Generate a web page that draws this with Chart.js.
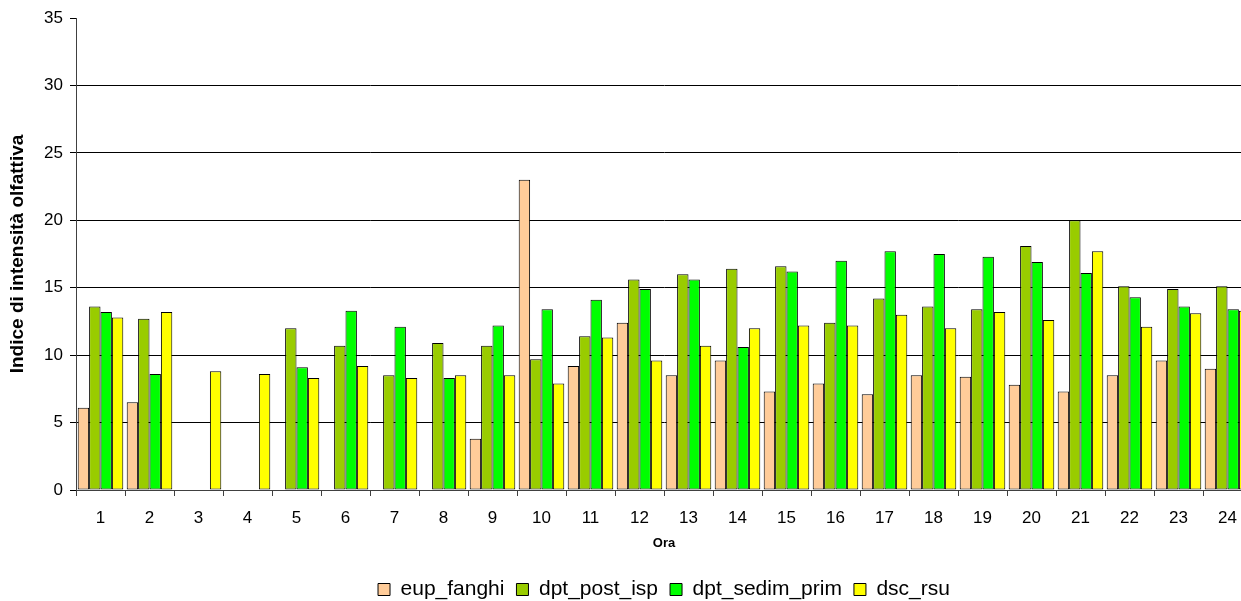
<!DOCTYPE html>
<html lang="it">
<head>
<meta charset="utf-8">
<title>Indice di intensità olfattiva per ora</title>
<script src="https://cdn.jsdelivr.net/npm/chart.js@4.4.1/dist/chart.umd.min.js"></script>
<style>
  html, body { margin: 0; padding: 0; background: #fff; overflow: hidden; }
  #wrap { width: 1344px; height: 610px; }
  canvas { display: block; }
</style>
</head>
<body>
<div id="wrap"><canvas id="chart" width="1344" height="610"></canvas></div>
<script>
// Hours of the day (category axis)
const hours = ['1','2','3','4','5','6','7','8','9','10','11','12','13','14','15','16','17','18','19','20','21','22','23','24'];

// Odour intensity index per source, one value per hour (null = no measurement)
const eupFanghi    = [6.1, 6.5, null, null, null, null, null, null, 3.8, 23.0, 9.2, 12.4, 8.5, 9.6, 7.3, 7.9, 7.1, 8.5, 8.4, 7.8, 7.3, 8.5, 9.6, 9.0];
const dptPostIsp   = [13.6, 12.7, null, null, 12.0, 10.7, 8.5, 10.9, 10.7, 9.7, 11.4, 15.6, 16.0, 16.4, 16.6, 12.4, 14.2, 13.6, 13.4, 18.1, 20.0, 15.1, 14.9, 15.1];
const dptSedimPrim = [13.2, 8.6, null, null, 9.1, 13.3, 12.1, 8.3, 12.2, 13.4, 14.1, 14.9, 15.6, 10.6, 16.2, 17.0, 17.7, 17.5, 17.3, 16.9, 16.1, 14.3, 13.6, 13.4];
const dscRsu       = [12.8, 13.2, 8.8, 8.6, 8.3, 9.2, 8.3, 8.5, 8.5, 7.9, 11.3, 9.6, 10.7, 12.0, 12.2, 12.2, 13.0, 12.0, 13.2, 12.6, 17.7, 12.1, 13.1, 13.3];

// Y axis range and step
const yMin = 0, yMax = 35, yStep = 5;

const FONT = "'Liberation Sans', Arial, sans-serif";

function series(label, data, color) {
  return {
    label: label,
    data: data,
    backgroundColor: color,
    borderColor: '#000',
    borderWidth: 1,
    borderSkipped: false,
    categoryPercentage: 0.93,
    barPercentage: 1.0
  };
}

new Chart(document.getElementById('chart'), {
  type: 'bar',
  data: {
    labels: hours,
    datasets: [
      series('eup_fanghi', eupFanghi, '#FFCC99'),
      series('dpt_post_isp', dptPostIsp, '#99CC00'),
      series('dpt_sedim_prim', dptSedimPrim, '#00FF00'),
      series('dsc_rsu', dscRsu, '#FFFF00')
    ]
  },
  options: {
    responsive: false,
    animation: false,
    devicePixelRatio: 1,
    layout: { padding: { top: 18, right: 92, bottom: 0, left: 0 } },
    plugins: {
      tooltip: { enabled: false },
      legend: {
        position: 'bottom',
        fullSize: false,
        labels: {
          color: '#000',
          font: { family: FONT, size: 21 },
          boxWidth: 12,
          boxHeight: 12,
          padding: 12
        }
      }
    },
    scales: {
      x: {
        grid: {
          offset: true,
          drawOnChartArea: false,
          drawTicks: true,
          tickLength: 6,
          color: '#404040',
          tickColor: '#404040'
        },
        border: { color: '#404040', width: 1 },
        ticks: {
          color: '#000',
          font: { family: FONT, size: 17 },
          padding: 12,
          maxRotation: 0,
          autoSkip: false
        },
        title: {
          display: true,
          text: 'Ora',
          color: '#000',
          font: { family: FONT, size: 13, weight: 'bold' },
          padding: { top: 0, bottom: 16 }
        },
        afterFit: (scale) => { scale.height = 77; }
      },
      y: {
        min: yMin,
        max: yMax,
        grid: {
          color: (ctx) => (ctx.tick && ctx.tick.value === yMax) ? 'rgba(0,0,0,0)' : '#000',
          tickColor: '#000',
          tickLength: 6,
          lineWidth: 1
        },
        border: { color: '#404040', width: 1 },
        ticks: {
          stepSize: yStep,
          color: '#000',
          font: { family: FONT, size: 17 },
          padding: 7
        },
        title: {
          display: true,
          text: 'Indice di intensità olfattiva',
          color: '#000',
          font: { family: FONT, size: 19, weight: 'bold' },
          padding: { top: 6, bottom: 4 }
        },
        afterFit: (scale) => { scale.width = 76; }
      }
    }
  }
});
</script>
</body>
</html>
